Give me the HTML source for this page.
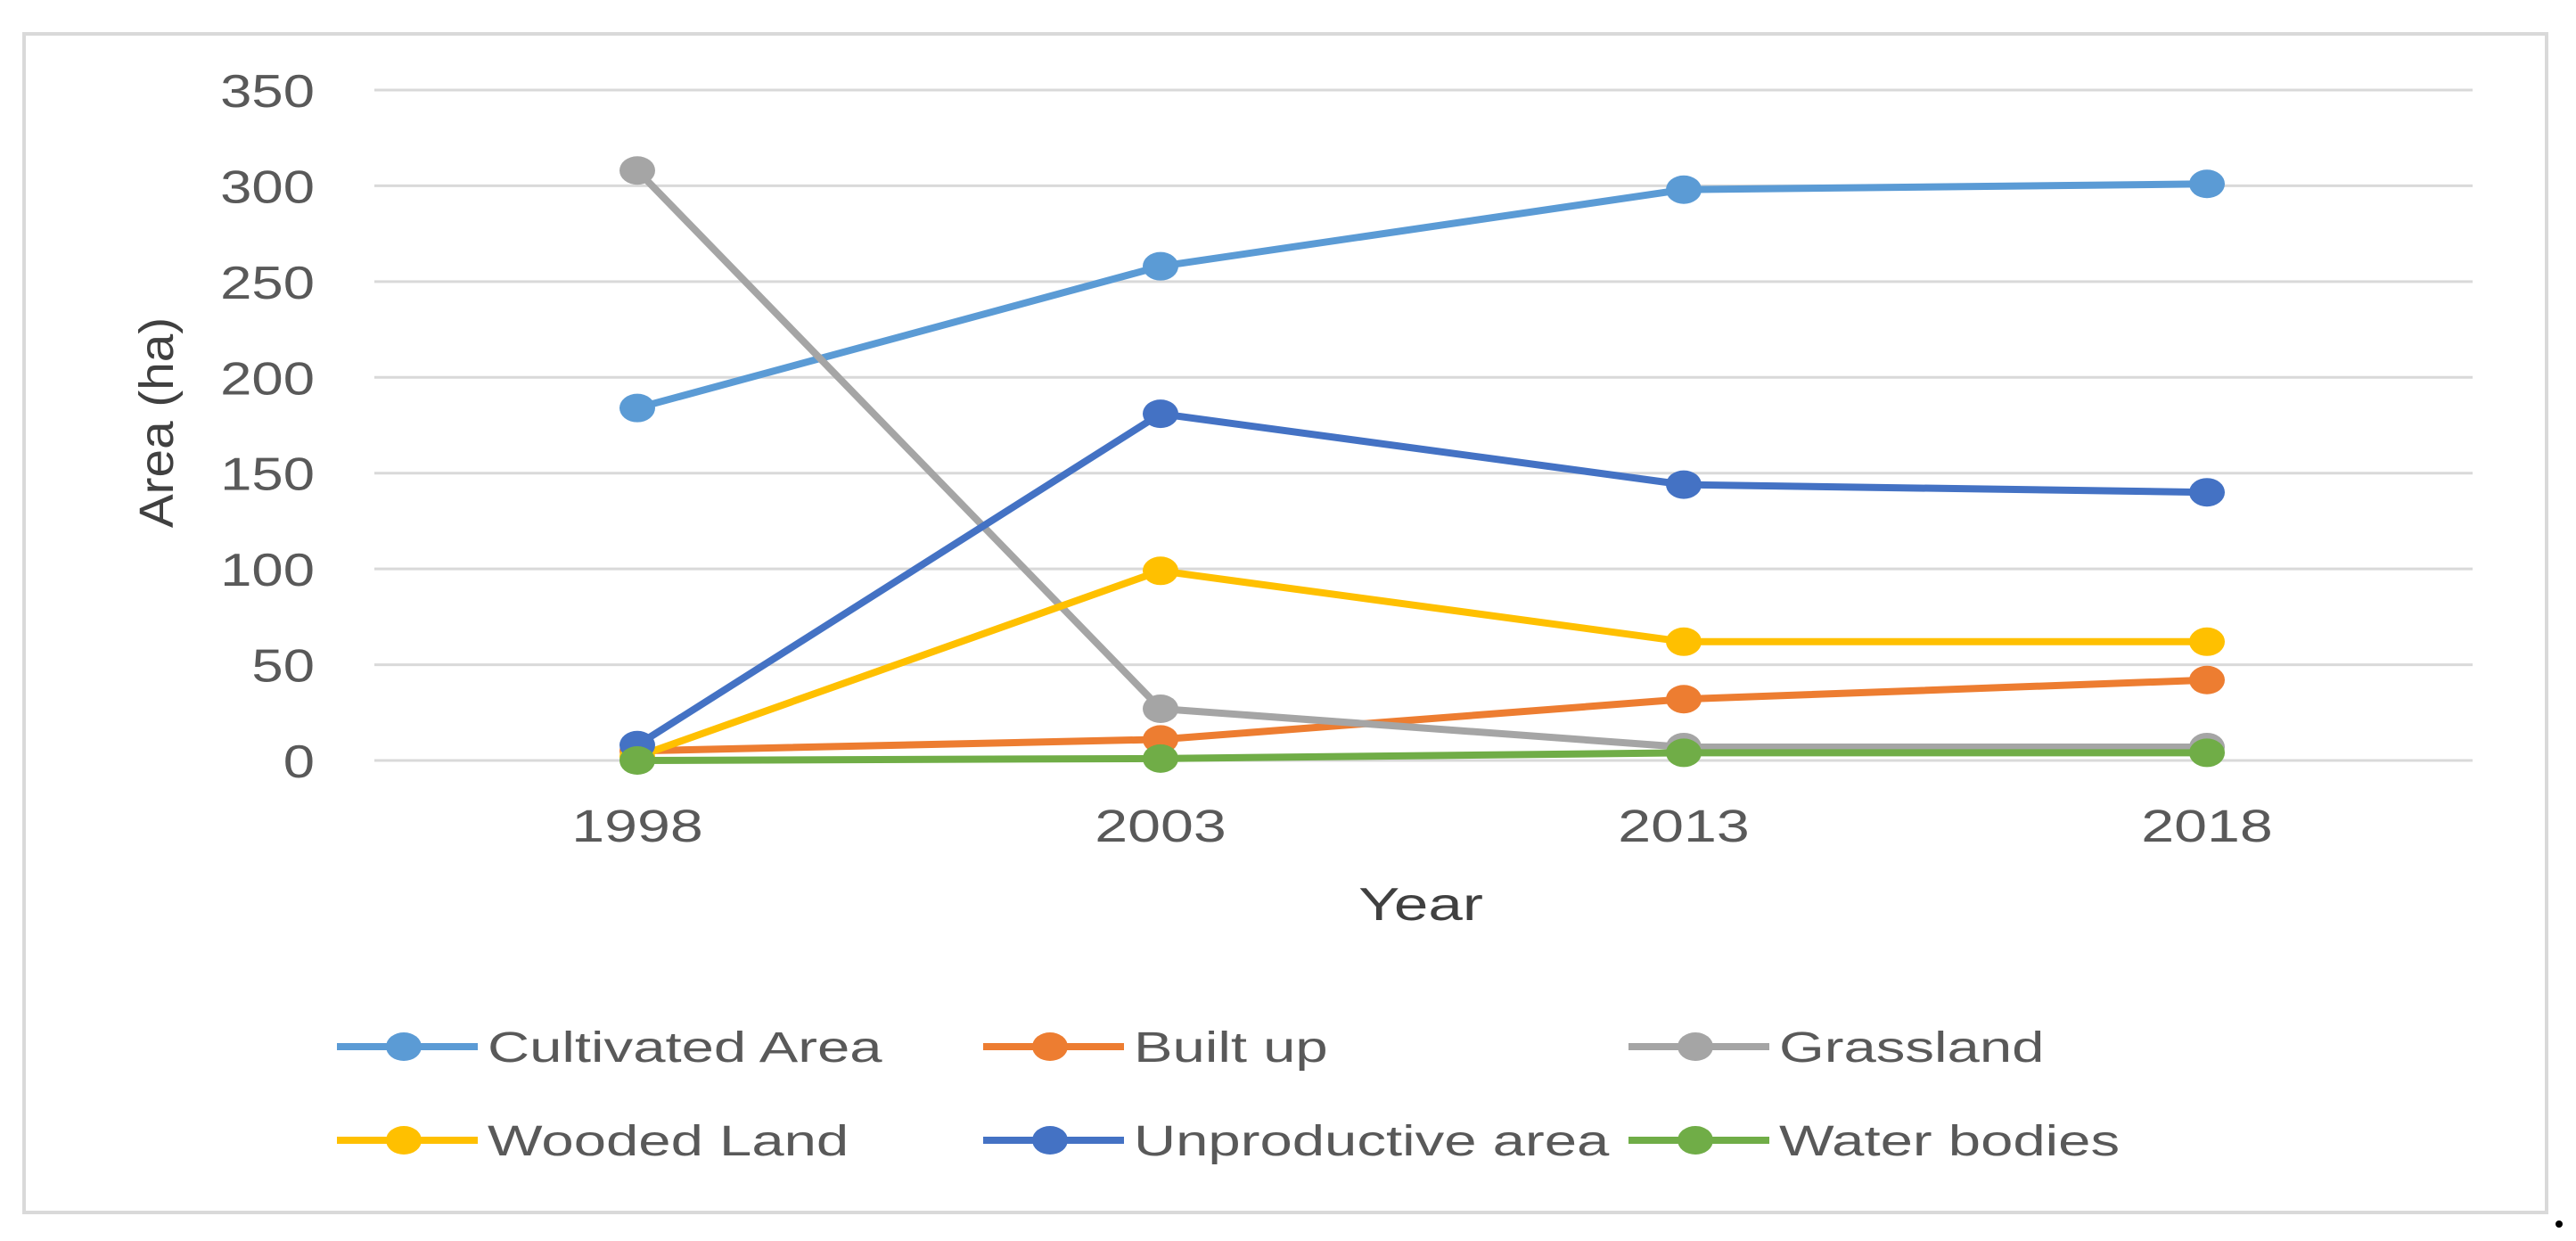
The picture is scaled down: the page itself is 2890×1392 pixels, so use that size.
<!DOCTYPE html>
<html><head><meta charset="utf-8"><style>
html,body{margin:0;padding:0;background:#fff;}
svg{display:block;font-family:"Liberation Sans",sans-serif;}
</style></head><body>
<svg id="chart" width="2890" height="1392" viewBox="0 0 2890 1392" xmlns="http://www.w3.org/2000/svg">
<rect x="27" y="38" width="2830" height="1322" fill="#fff" stroke="#d9d9d9" stroke-width="4"/>
<circle cx="2871" cy="1373" r="4" fill="#000"/>
<g id="grid"></g><g id="yticks"></g><g id="xticks"></g><g id="series"></g><g id="legend"></g>
<text x="0" y="0" transform="translate(194,474) rotate(-90) scale(1.05,1)" text-anchor="middle" font-size="54" fill="#404040">Area (ha)</text>
<text x="0" y="0" transform="translate(1594,1032) scale(1.33,1)" text-anchor="middle" font-size="52" fill="#404040">Year</text>
</svg>
<script>
const categories=["1998","2003","2013","2018"];
const yTicks=[0,50,100,150,200,250,300,350];
const seriesNames=["Cultivated Area","Built up","Grassland","Wooded Land","Unproductive area","Water bodies"];
const seriesColors=["#5B9BD5","#ED7D31","#A5A5A5","#FFC000","#4472C4","#70AD47"];
const cultivated=[184,258,298,301];
const builtUp=[5,11,32,42];
const grassland=[308,27,7,7];
const wooded=[2,99,62,62];
const unproductive=[8,181,144,140];
const water=[0,1,4,4];
const seriesValues=[cultivated,builtUp,grassland,wooded,unproductive,water];

const NS="http://www.w3.org/2000/svg";
const plotL=420,plotR=2774,y0=853,y350=101;
const xFirst=715,xStep=587;
function xs(i){return xFirst+i*xStep;}
function ys(v){return y0-(v/350)*(y0-y350);}
function mk(tag,attrs,parent){const e=document.createElementNS(NS,tag);for(const k in attrs)e.setAttribute(k,attrs[k]);parent.appendChild(e);return e;}
const grid=document.getElementById('grid'),yt=document.getElementById('yticks'),xt=document.getElementById('xticks'),sg=document.getElementById('series'),lg=document.getElementById('legend');
yTicks.forEach(v=>{
  const l=mk('line',{x1:plotL,x2:plotR,y1:ys(v),y2:ys(v),stroke:'#d9d9d9','stroke-width':3},grid);
  
  
  const t=mk('text',{x:0,y:0,transform:'translate(353,'+(ys(v)+19)+') scale(1.22,1)','text-anchor':'end','font-size':52,fill:'#595959'},yt);
  t.textContent=v;
  
  
});
categories.forEach((c,i)=>{
  const t=mk('text',{x:0,y:0,transform:'translate('+xs(i)+',944) scale(1.3,1)','text-anchor':'middle','font-size':51,fill:'#595959'},xt);
  t.textContent=c;
  
  
});
seriesValues.forEach((vals,s)=>{
  const g=mk('g',{},sg);
  
  
  const pts=vals.map((v,i)=>xs(i)+','+ys(v)).join(' ');
  const pl=mk('polyline',{points:pts,fill:'none',stroke:seriesColors[s],'stroke-width':8,'stroke-linejoin':'round'},g);
  
  
  vals.forEach((v,i)=>{
    const e=mk('ellipse',{cx:xs(i),cy:ys(v),rx:20,ry:16,fill:seriesColors[s]},g);
    
    
  });
});
const colX=[378,1103,1827],rowY=[1174,1279];
seriesNames.forEach((n,s)=>{
  const cx=colX[s%3],cy=rowY[Math.floor(s/3)];
  const g=mk('g',{},lg);
  
  
  mk('line',{x1:cx,x2:cx+158,y1:cy,y2:cy,stroke:seriesColors[s],'stroke-width':8},g);
  mk('ellipse',{cx:cx+75,cy:cy,rx:20,ry:16,fill:seriesColors[s]},g);
  const t=mk('text',{x:0,y:0,transform:'translate('+(cx+169)+','+(cy+17)+') scale(1.36,1)','font-size':48,fill:'#595959'},g);
  t.textContent=n;
});
</script>
</body></html>
